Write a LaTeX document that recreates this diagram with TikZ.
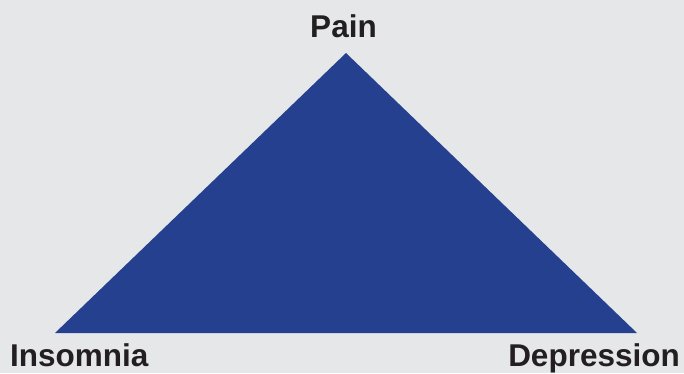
\documentclass[tikz,border=0pt]{standalone}
\usepackage{fontspec}
\setmainfont{Liberation Sans}
\definecolor{bgc}{HTML}{E6E7E8}
\definecolor{tri}{HTML}{25408F}
\definecolor{txt}{HTML}{231F20}
\begin{document}
\begin{tikzpicture}[x=1pt,y=-1pt,
  lbl/.style={inner sep=0pt, text=txt, font=\fontsize{31.5}{36}\selectfont\bfseries}]
\fill[bgc] (0,0) rectangle (684,373);
\useasboundingbox (0,0) rectangle (684,373);
\coordinate (top) at (346,53);
\coordinate (bl) at (55,333);
\coordinate (br) at (637,333);
\fill[tri] (top) -- (bl) -- (br) -- cycle;
\node[lbl, anchor=base] (pain) at (343.5,37) {Pain};
\node[lbl, anchor=base west] (insomnia) at (10,366.5) {Insomnia};
\node[lbl, anchor=base east] (depression) at (680,366.5) {Depression};
\end{tikzpicture}
\end{document}
